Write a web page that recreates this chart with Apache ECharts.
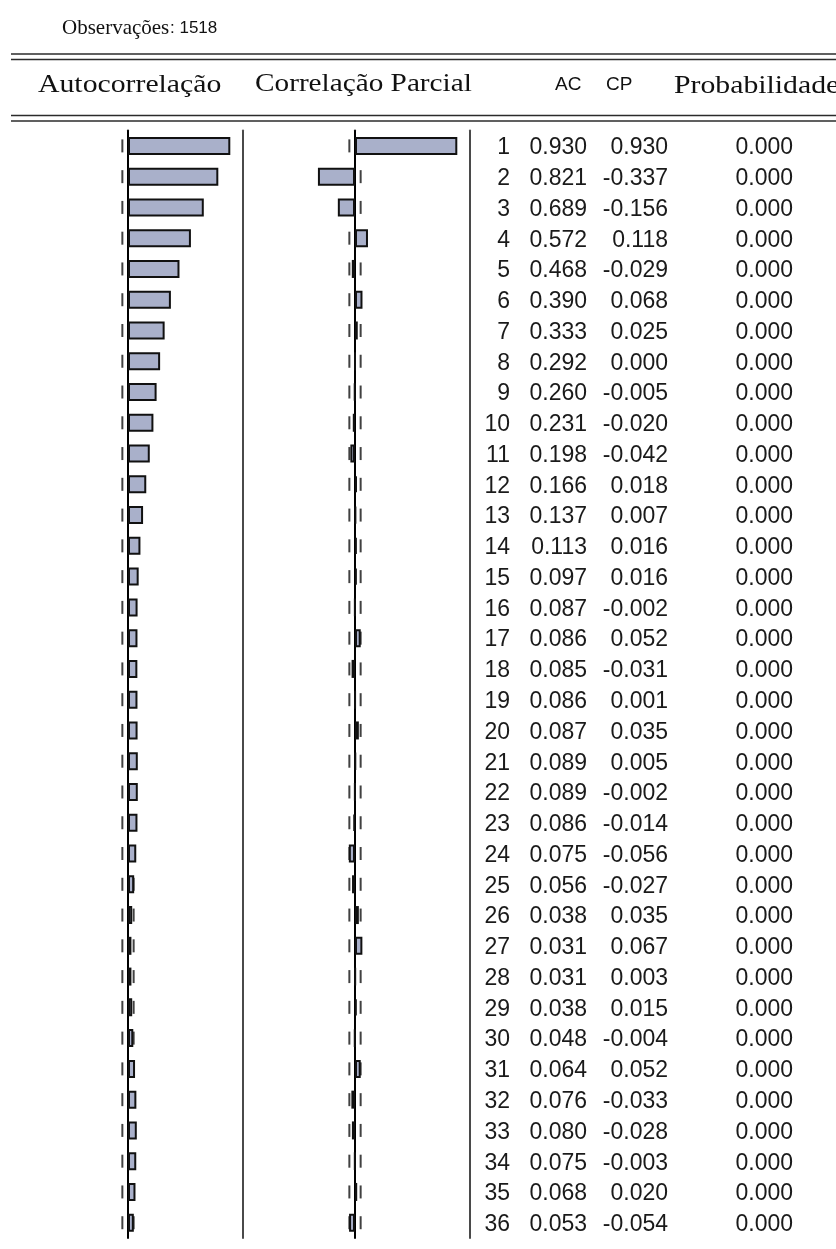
<!DOCTYPE html>
<html>
<head>
<meta charset="utf-8">
<script src="https://cdn.jsdelivr.net/npm/echarts@6/dist/echarts.min.js"></script>
<style>
  html, body { margin: 0; padding: 0; background: #ffffff; }
  #chart { width: 836px; height: 1249px; }
</style>
</head>
<body>
<div id="chart"></div>
<script>
// Correlogram: sample size, lags and the estimated statistics per lag
const observations = 1518;
const lags = [1, 2, 3, 4, 5, 6, 7, 8, 9, 10, 11, 12, 13, 14, 15, 16, 17, 18,
              19, 20, 21, 22, 23, 24, 25, 26, 27, 28, 29, 30, 31, 32, 33, 34, 35, 36];
const acValues = [0.930, 0.821, 0.689, 0.572, 0.468, 0.390, 0.333, 0.292, 0.260, 0.231,
                  0.198, 0.166, 0.137, 0.113, 0.097, 0.087, 0.086, 0.085, 0.086, 0.087,
                  0.089, 0.089, 0.086, 0.075, 0.056, 0.038, 0.031, 0.031, 0.038, 0.048,
                  0.064, 0.076, 0.080, 0.075, 0.068, 0.053];
const pacValues = [0.930, -0.337, -0.156, 0.118, -0.029, 0.068, 0.025, 0.000, -0.005, -0.020,
                   -0.042, 0.018, 0.007, 0.016, 0.016, -0.002, 0.052, -0.031, 0.001, 0.035,
                   0.005, -0.002, -0.014, -0.056, -0.027, 0.035, 0.067, 0.003, 0.015, -0.004,
                   0.052, -0.033, -0.028, -0.003, 0.020, -0.054];
const probValues = [0.000, 0.000, 0.000, 0.000, 0.000, 0.000, 0.000, 0.000, 0.000, 0.000,
                    0.000, 0.000, 0.000, 0.000, 0.000, 0.000, 0.000, 0.000, 0.000, 0.000,
                    0.000, 0.000, 0.000, 0.000, 0.000, 0.000, 0.000, 0.000, 0.000, 0.000,
                    0.000, 0.000, 0.000, 0.000, 0.000, 0.000];

// Approximate 95% band (two standard errors)
const band = 2 / Math.sqrt(observations);

// Layout
const ROW_TOP = 130.5;
const ROW_HEIGHT = 1107.6;
const TEXT_SHIFT = 2;          // numbers sit slightly below the bar centres
const UNIT = 110;              // pixels per unit correlation
const X_MIN = -1, X_MAX = 1.04;
const PANEL_W = (X_MAX - X_MIN) * UNIT;
const ACF_LEFT = 18;
const PACF_LEFT = 245;
const TEXT_ANCHOR = 800;

const barColor = '#A9B0CA';
const serif = '"Liberation Serif", "DejaVu Serif", serif';
const sans = '"Liberation Sans", Arial, sans-serif';
const fmt = v => v.toFixed(3);

const lagNames = lags.map(String);

function panelYAxes(gridIndex) {
  return [
    { // zero line of the panel
      gridIndex, type: 'category', data: lagNames, inverse: true,
      axisLine: { show: true, onZero: true, lineStyle: { color: '#000', width: 2 } },
      axisTick: { show: false }, axisLabel: { show: false }, splitLine: { show: false }
    },
    { // right border of the panel
      gridIndex, type: 'category', data: lagNames, inverse: true, position: 'right',
      axisLine: { show: true, onZero: false, lineStyle: { color: '#4a4a4a', width: 2 } },
      axisTick: { show: false }, axisLabel: { show: false }, splitLine: { show: false }
    }
  ];
}

function textAxis(values, offset, formatter) {
  return {
    gridIndex: 2, type: 'category', data: lagNames, inverse: true, position: 'left', offset,
    axisLine: { show: false }, axisTick: { show: false }, splitLine: { show: false },
    axisLabel: {
      show: true, interval: 0, margin: 0, color: '#1a1a1a',
      fontFamily: sans, fontSize: 23,
      formatter: (value, index) => formatter(values[index])
    }
  };
}

function bandDashes() {
  const pts = [];
  lags.forEach((lag, i) => { pts.push([-band, i]); pts.push([band, i]); });
  return pts;
}

const yAxes = [
  ...panelYAxes(0),
  ...panelYAxes(1),
  textAxis(lags, TEXT_ANCHOR - 510, v => String(v)),
  textAxis(acValues, TEXT_ANCHOR - 587, fmt),
  textAxis(pacValues, TEXT_ANCHOR - 668, fmt),
  textAxis(probValues, TEXT_ANCHOR - 793, fmt)
];

const barStyle = { color: barColor, borderColor: '#111', borderWidth: 2 };
const dashStyle = { color: '#111' };

const hLine = (y) => ({
  type: 'line', shape: { x1: 11, y1: y, x2: 836, y2: y },
  style: { stroke: '#2b2b2b', lineWidth: 1.6 }
});
const headText = (text, x, y, font, size, scaleX) => ({
  type: 'text', x, y, scaleX: scaleX || 1,
  style: { text, fill: '#111', font: `${size}px ${font}`, textVerticalAlign: 'middle' }
});

const option = {
  animation: false,
  backgroundColor: '#ffffff',
  grid: [
    { left: ACF_LEFT, top: ROW_TOP, width: PANEL_W, height: ROW_HEIGHT },
    { left: PACF_LEFT, top: ROW_TOP, width: PANEL_W, height: ROW_HEIGHT },
    { left: TEXT_ANCHOR, top: ROW_TOP + TEXT_SHIFT, width: 20, height: ROW_HEIGHT }
  ],
  xAxis: [
    { gridIndex: 0, type: 'value', min: X_MIN, max: X_MAX, show: false },
    { gridIndex: 1, type: 'value', min: X_MIN, max: X_MAX, show: false },
    { gridIndex: 2, type: 'value', min: 0, max: 1, show: false }
  ],
  yAxis: yAxes,
  series: [
    {
      name: 'Autocorrelação', type: 'bar', xAxisIndex: 0, yAxisIndex: 0,
      data: acValues, barWidth: 18, itemStyle: barStyle, z: 3
    },
    {
      name: 'Correlação Parcial', type: 'bar', xAxisIndex: 1, yAxisIndex: 2,
      data: pacValues, barWidth: 18, itemStyle: barStyle, z: 3
    },
    {
      type: 'scatter', xAxisIndex: 0, yAxisIndex: 0, data: bandDashes(),
      symbol: 'rect', symbolSize: [2, 13], itemStyle: dashStyle, z: 1, silent: true
    },
    {
      type: 'scatter', xAxisIndex: 1, yAxisIndex: 2, data: bandDashes(),
      symbol: 'rect', symbolSize: [2, 13], itemStyle: dashStyle, z: 1, silent: true
    }
  ],
  graphic: [
    headText('Observações', 62, 28, serif, 21, 1.0),
    headText(': ' + observations, 170, 28, sans, 17),
    hLine(54), hLine(59.5),
    headText('Autocorrelação', 38, 85, serif, 25, 1.19),
    headText('Correlação Parcial', 255, 84, serif, 25, 1.17),
    headText('AC', 555, 85, sans, 19),
    headText('CP', 606, 85, sans, 19),
    headText('Probabilidade', 674, 86, serif, 25, 1.19),
    hLine(115.5), hLine(121)
  ]
};

const chart = echarts.init(document.getElementById('chart'), null, { renderer: 'canvas' });
chart.setOption(option);
</script>
</body>
</html>
